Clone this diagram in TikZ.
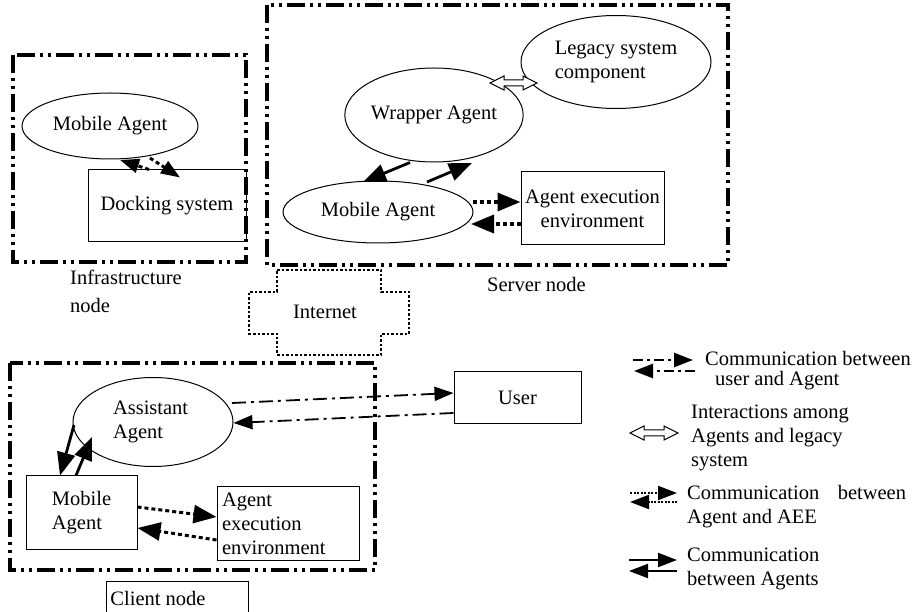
\documentclass[tikz,border=0pt]{standalone}
\usepackage{fontspec}
\setmainfont{Liberation Serif}
\usetikzlibrary{arrows.meta,shapes.geometric}
\begin{document}
\begin{tikzpicture}[x=1pt,y=-1pt,
  font=\fontsize{20.5}{24}\selectfont,
  frame/.style={line width=3.2pt, dash pattern=on 18pt off 5pt on 3pt off 5pt on 3pt off 5pt},
  agentell/.style={draw, ellipse, line width=1pt, inner sep=0pt, align=left},
  box/.style={draw, rectangle, line width=1pt, inner sep=0pt},
  tip/.style={-{Triangle[length=23pt 0 0,width=18pt 0 0]}},
  smalltip/.style={-{Triangle[length=19pt 0 0,width=14pt 0 0]}},
  msg/.style={tip, line width=2.8pt},
  aee/.style={tip, line width=3.6pt, dash pattern=on 4pt off 3pt},
  usr/.style={smalltip, line width=1.8pt, dash pattern=on 14pt off 5pt on 3pt off 5pt},
  lgtext/.style={anchor=west, inner sep=0pt, align=left},
  pics/hollowarrow/.style={code={
    \draw[line width=1pt, fill=white, line join=miter]
      (0,0) -- (14,-7) -- (14,-3) -- ({#1-14},-3) -- ({#1-14},-7) -- (#1,0)
      -- ({#1-14},7) -- ({#1-14},3) -- (14,3) -- (14,7) -- cycle;}},
]
\useasboundingbox (0,0) rectangle (914,612);

% ---------- infrastructure node ----------
\draw[frame] (13,55) rectangle (246,262);
\node[agentell, minimum width=176pt, minimum height=66pt] (imA) at (110,126) {Mobile Agent};
\node[box, minimum width=158pt, minimum height=72pt] (dock) at (167,206) {\raisebox{-6pt}{Docking system}};
\draw[aee, smalltip, line width=3pt] ([xshift=-18pt]dock.north) -- ([xshift=10pt,yshift=-34pt]imA.center);
\draw[aee, smalltip, line width=3pt] ([xshift=40pt,yshift=-32pt]imA.center) -- ([xshift=13pt,yshift=-8pt]dock.north);
\node[lgtext] (infralbl) at (70,291) {Infrastructure\\[4pt]node};

% ---------- server node ----------
\draw[frame] (267,5) rectangle (728,265);
\node[agentell, minimum width=190pt, minimum height=93pt] (legacy) at (616,62) {Legacy system\\component};
\node[agentell, minimum width=176pt, minimum height=94pt] (wrap) at (434,115) {Wrapper Agent};
\node[agentell, minimum width=190pt, minimum height=62pt] (smA) at (378,212) {Mobile Agent};
\node[box, minimum width=143pt, minimum height=73pt, align=center] (saee) at (592.5,208.5) {Agent execution\\environment};
\pic at ([xshift=56pt,yshift=32pt]wrap.center) {hollowarrow=47};
\draw[msg] ([xshift=-24pt]wrap.south) -- ([xshift=-15pt,yshift=30pt]smA.center);
\draw[msg] ([xshift=49pt,yshift=30pt]smA.center) -- ([xshift=38pt,yshift=-48pt]wrap.center);
\draw[aee] ([xshift=95pt,yshift=10pt]smA.center) -- ([yshift=6.5pt]saee.west);
\draw[aee] ([yshift=-15.5pt]saee.west) -- ([xshift=93pt,yshift=-12pt]smA.center);
\node[lgtext] (serverlbl) at (487,284) {Server node};

% ---------- internet ----------
\node (net) at (325,312) {Internet};
\draw[line width=2.6pt, dash pattern=on 2.5pt off 2pt]
  (277,270) -- (381,270) -- (381,292) -- (409,292) -- (409,334) -- (381,334)
  -- (381,355) -- (277,355) -- (277,334) -- (249,334) -- (249,292) -- (277,292) -- cycle;

% ---------- client node ----------
\draw[frame] (10,363) rectangle (375,570);
\node[agentell, minimum width=160pt, minimum height=89pt] (asst) at (153,422) {\raisebox{7pt}{\parbox{80pt}{Assistant\\Agent}}};
\node[box, minimum width=111pt, minimum height=73pt, align=left] (cmA) at (81.5,512.5) {Mobile\\Agent};
\node[box, minimum width=142pt, minimum height=73pt, text width=132pt, inner xsep=5pt, align=left] (caee) at (288,523.5) {Agent\\execution\\environment};
\node[box, minimum width=127pt, minimum height=52pt] (user) at (517.5,398) {\raisebox{-5pt}{User}};
\draw[msg] ([xshift=-79pt,yshift=-3pt]asst.center) -- ([xshift=-21.5pt]cmA.north);
\draw[msg] ([xshift=-5.5pt]cmA.north) -- ([xshift=-61pt,yshift=-15pt]asst.center);
\draw[aee, line width=3pt] ([yshift=5.5pt]cmA.east) -- ([yshift=6.5pt]caee.west);
\draw[aee, line width=3pt] ([yshift=-16.5pt]caee.west) -- ([yshift=-15.5pt]cmA.east);
\draw[usr] ([xshift=79pt,yshift=19pt]asst.center) -- ([yshift=5pt]user.west);
\draw[usr] ([yshift=-15pt]user.west) -- ([yshift=-1pt]asst.east);

% client label, box open at the page edge
\node (clientlbl) at (158,598) {Client node};
\draw[line width=1pt] (106,613) -- (106,581) -- (248,581) -- (248,613);

% ---------- legend ----------
\coordinate (l1a) at (633,360); \coordinate (l1b) at (693,360);
\coordinate (l1c) at (695,371); \coordinate (l1d) at (634,371);
\draw[smalltip, line width=2.6pt, dash pattern=on 10pt off 4pt on 3pt off 4pt] (l1a) -- (l1b);
\draw[smalltip, line width=2.6pt, dash pattern=on 10pt off 4pt on 3pt off 4pt] (l1c) -- (l1d);
\node[lgtext] (lg1a) at (705,358) {Communication between};
\node[lgtext] (lg1b) at (715,381) {user and Agent};

\coordinate (l2a) at (630,433);
\pic at (l2a) {hollowarrow=48};
\node[lgtext] (lg2) at (691,438) {Interactions among\\Agents and legacy\\system};

\coordinate (l3a) at (630,493); \coordinate (l3b) at (677,493);
\coordinate (l3c) at (677,502); \coordinate (l3d) at (630,502);
\draw[smalltip, line width=2pt, dash pattern=on 2pt off 1.5pt] (l3a) -- (l3b);
\draw[smalltip, line width=2pt, dash pattern=on 2pt off 1.5pt] (l3c) -- (l3d);
\node[lgtext] (lg3) at (687,507) {Communication\hspace{0.9em}between\\Agent and AEE};

\coordinate (l4a) at (629,560); \coordinate (l4b) at (677,560);
\coordinate (l4c) at (677,571); \coordinate (l4d) at (629,571);
\draw[smalltip, line width=2.2pt] (l4a) -- (l4b);
\draw[smalltip, line width=2.2pt] (l4c) -- (l4d);
\node[lgtext] (lg4) at (687,569) {Communication\\between Agents};
\end{tikzpicture}
\end{document}
